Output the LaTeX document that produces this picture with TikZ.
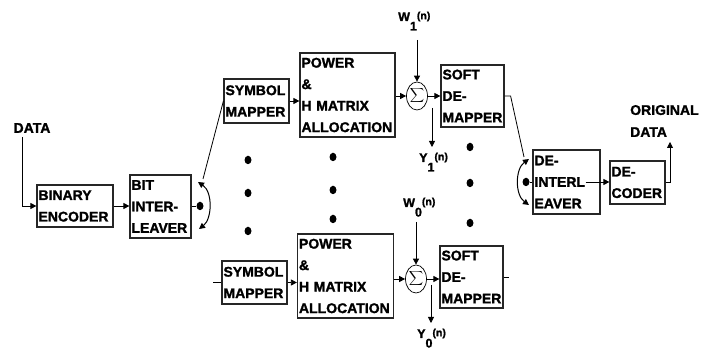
\documentclass[tikz,border=0pt]{standalone}
\usepackage{fontspec}
\setmainfont{Liberation Sans}[BoldFeatures={FakeBold=1.5}]
\usetikzlibrary{arrows.meta,shapes.geometric,calc}
\newcommand\sublbl[2]{#1\raisebox{-9.5pt}{#2}\raisebox{1.8pt}{\fontsize{10.5}{10.5}\selectfont(n)}}
\begin{document}
\begin{tikzpicture}[x=1pt,y=-1pt,
  box/.style={draw=black!85,line width=1.2pt,rectangle,inner sep=1.5pt,align=left,
    font=\fontsize{14}{21.5}\selectfont\bfseries},
  wire/.style={line width=0.8pt},
  tip/.tip={Triangle[length=6pt,width=6pt]},
  arr/.style={wire,-tip},
  dbl/.style={line width=1pt,tip-tip},
  sumnode/.style={draw,ellipse,line width=0.7pt,minimum width=21pt,minimum height=28pt,inner sep=0pt},
  dotnode/.style={fill=black,ellipse,minimum width=7pt,minimum height=8.5pt,inner sep=0pt},
  lbl/.style={font=\fontsize{14}{22}\selectfont\bfseries,inner sep=0pt,align=left},
  sublabel/.style={font=\fontsize{12.5}{12.5}\selectfont\bfseries,inner sep=0pt,anchor=base west}
]
\useasboundingbox (0,0) rectangle (702,352);

% boxes
\node[box,text width=73pt,minimum height=42pt] (enc) at (75,206) {BINARY\\ENCODER};
\node[box,text width=58pt,minimum height=63pt] (bil) at (160.5,206.5) {BIT\\INTER-\\LEAVER};
\node[box,text width=62pt,minimum height=44pt] (sm1) at (256.5,101) {SYMBOL\\MAPPER};
\node[box,text width=92pt,minimum height=84pt] (pw1) at (347.5,95) {POWER\\\&\\H MATRIX\\ALLOCATION};
\node[box,text width=60pt,minimum height=62pt] (sd1) at (472.5,96) {SOFT\\DE-\\MAPPER};
\node[box,text width=62pt,minimum height=43pt] (sm0) at (254.5,282.5) {SYMBOL\\MAPPER};
\node[box,text width=93pt,minimum height=84pt] (pw0) at (345.5,276) {POWER\\\&\\H MATRIX\\ALLOCATION};
\node[box,text width=60pt,minimum height=62pt] (sd0) at (471.5,277) {SOFT\\DE-\\MAPPER};
\node[box,text width=64pt,minimum height=64pt] (dil) at (566.5,182) {DE-\\INTERL\\EAVER};
\node[box,text width=52pt,minimum height=43pt] (dec) at (637.5,182.5) {DE-\\CODER};

% sum nodes
\node[sumnode] (s1) at (417,96) {$\displaystyle\sum$};
\node[sumnode] (s0) at (416,279) {$\displaystyle\sum$};

% labels
\node[lbl] (data) at (32,128) {DATA};
\node[lbl,anchor=west] (orig) at (630,121) {ORIGINAL\\DATA};
\node[sublabel] (w1) at (398,21) {\sublbl{W}{1}};
\node[sublabel] (y1) at (419,162) {\sublbl{Y}{1}};
\node[sublabel] (w0) at (403,207) {\sublbl{W}{0}};
\node[sublabel] (y0) at (417,338) {\sublbl{Y}{0}};

% switches
\node[dotnode] (sw1) at (200,206) {};
\coordinate (sw1a) at (198,182);
\coordinate (sw1b) at (199,229);
\node[dotnode] (sw2) at (526,182) {};
\coordinate (sw2a) at (529,159);
\coordinate (sw2b) at (529,205);

% free ends
\coordinate (datain) at (22,137);
\coordinate (w1in) at (417,40);
\coordinate (w0in) at (416,222);
\coordinate (y1a) at (432,108);
\coordinate (y1b) at (432,147);
\coordinate (y0a) at (431,285);
\coordinate (y0b) at (431,323);
\coordinate (outc) at (670,142);

% connectors
\draw[arr] (datain) |- (enc.west);
\draw[arr] (enc.east) -- (bil.west |- enc.east);
\draw[wire] (bil.east |- sw1) -- (sw1);
\draw[dbl] (sw1a) .. controls +(15,10) and +(13,-10) .. (sw1b);
\draw[wire] (sw1a) ++(5,-3) -- (sm1.west);
\draw[arr] (sm1.east) -- (sm1.east -| pw1.west);
\draw[arr] (pw1.east |- s1.west) -- (s1.west);
\draw[arr] (w1in) -- (s1.north);
\draw[arr] (s1.east) -- (s1.east -| sd1.west);
\draw[arr] (y1a) -- (y1b);
\draw[wire] (sd1.east) -- ++(6,0) -- ($(sw2a)+(-5,-2)$);
\draw[dbl] (sw2a) .. controls +(-14,10) and +(-14,-10) .. (sw2b);
\draw[wire] (sw2) -- (dil.west);
\draw[arr] ($(dil.east)+(-15,0)$) -- (dec.west |- dil.east);
\draw[arr] (dec.east) -| (outc);

\draw[wire] (sm0.west) -- ++(-8,0);
\draw[arr] (sm0.east) -- (sm0.east -| pw0.west);
\draw[arr] (pw0.east |- s0.west) -- (s0.west);
\draw[arr] (w0in) -- (s0.north);
\draw[arr] (s0.east) -- (s0.east -| sd0.west);
\draw[arr] (y0a) -- (y0b);
\draw[wire] (sd0.east) -- ++(5,0);

% dots
\foreach \x/\y [count=\i] in {248/160,248/193,248/231,333/157,333/190,333/219,470/147,470/183,470/223}
  \node[dotnode] (d\i) at (\x,\y) {};
\end{tikzpicture}
\end{document}
